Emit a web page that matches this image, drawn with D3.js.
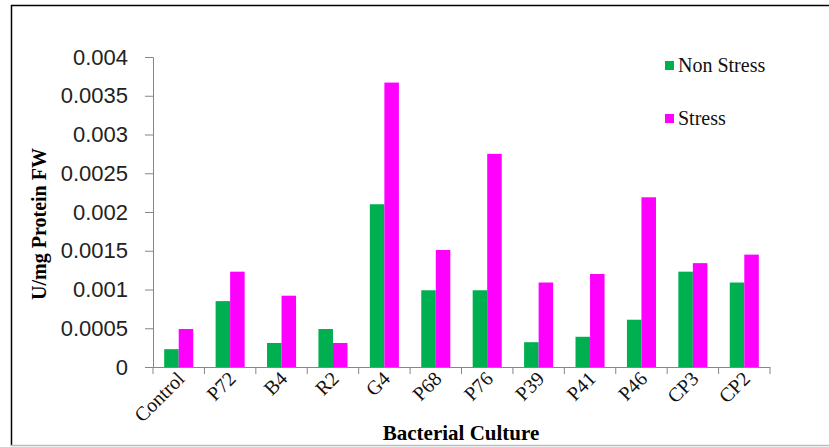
<!DOCTYPE html>
<html><head><meta charset="utf-8">
<script src="https://cdn.jsdelivr.net/npm/d3@7"></script>
<style>body{margin:0;background:#fff}svg{display:block}</style>
</head><body>
<svg id="c" width="829" height="447"></svg>
<script>
const categories = ["Control","P72","B4","R2","G4","P68","P76","P39","P41","P46","CP3","CP2"];
const seriesNames = ["Non Stress","Stress"];
const nonStress = [0.00023,0.00085,0.00031,0.00049,0.0021,0.00099,0.00099,0.00032,0.00039,0.00061,0.00123,0.00109];
const stress    = [0.00049,0.00123,0.00092,0.00031,0.00367,0.00151,0.00275,0.00109,0.0012,0.00219,0.00134,0.00145];
const yTickValues = [0,0.0005,0.001,0.0015,0.002,0.0025,0.003,0.0035,0.004];
const yTickLabels = ["0","0.0005","0.001","0.0015","0.002","0.0025","0.003","0.0035","0.004"];
const colors = ["#00B050","#FF00FF"];

const svg = d3.select("#c");
const L=153, R=770, T=57, B=367;
const x = d3.scaleBand().domain(categories).range([L,R]).padding(0);
const x1 = d3.scaleBand().domain(seriesNames).range([0,x.bandwidth()]).paddingInner(0).paddingOuter(0.77);
const y = d3.scaleLinear().domain([0,0.004]).range([B,T]);

// frame
svg.append("line").attr("x1",11.5).attr("x2",11.5).attr("y1",5).attr("y2",446).attr("stroke","#000").attr("stroke-width",1.5);
svg.append("line").attr("x1",11).attr("x2",829).attr("y1",5.5).attr("y2",5.5).attr("stroke","#000").attr("stroke-width",1.5);
svg.append("line").attr("x1",11).attr("x2",829).attr("y1",445.5).attr("y2",445.5).attr("stroke","#bbb").attr("stroke-width",1.5);

const data = categories.map((c,i)=>({cat:c, vals:[nonStress[i],stress[i]]}));
const g = svg.append("g");
g.selectAll("g.grp").data(data).join("g").attr("class","grp")
 .attr("transform",d=>`translate(${x(d.cat)},0)`)
 .selectAll("rect").data(d=>d.vals.map((v,j)=>({s:seriesNames[j],v,j})))
 .join("rect")
 .attr("x",d=>x1(d.s)).attr("width",x1.bandwidth())
 .attr("y",d=>y(d.v)).attr("height",d=>B-y(d.v))
 .attr("fill",d=>colors[d.j]);

// y axis
const ya = svg.append("g").attr("transform",`translate(${L},0)`)
 .call(d3.axisLeft(y).tickValues(yTickValues).tickFormat((d,i)=>yTickLabels[i]).tickSizeOuter(0).tickSize(8).tickPadding(17));
ya.select(".domain").attr("stroke","#868686");
ya.selectAll(".tick line").attr("stroke","#868686");
ya.selectAll("text").attr("font-family","'Liberation Sans',Arial,sans-serif").attr("font-size",22).attr("fill","#222");

// x axis
const xa = svg.append("g").attr("transform",`translate(0,${B})`);
xa.append("line").attr("x1",L).attr("x2",R).attr("y1",0.5).attr("y2",0.5).attr("stroke","#868686");
xa.selectAll("line.t").data(d3.range(categories.length+1)).join("line").attr("class","t")
 .attr("x1",i=>L+i*x.step()).attr("x2",i=>L+i*x.step()).attr("y1",0).attr("y2",7).attr("stroke","#868686");
xa.selectAll("text").data(categories).join("text")
 .attr("transform",d=>`translate(${x(d)+x.bandwidth()/2+7},${13}) rotate(-45)`)
 .attr("text-anchor","end")
 .attr("font-family","'Liberation Serif','Times New Roman',serif").attr("font-size",20).attr("fill","#111")
 .text(d=>d);

// titles
svg.append("text").attr("x",461).attr("y",440).attr("text-anchor","middle")
 .attr("font-family","'Liberation Serif','Times New Roman',serif").attr("font-weight","bold").attr("font-size",21)
 .text("Bacterial Culture");
svg.append("text").attr("transform","translate(46,224) rotate(-90)").attr("text-anchor","middle")
 .attr("font-family","'Liberation Serif','Times New Roman',serif").attr("font-weight","bold").attr("font-size",20)
 .text("U/mg Protein FW");

// legend
const lg = svg.append("g");
const ly = [61,114];
seriesNames.forEach((s,i)=>{
  lg.append("rect").attr("x",665).attr("y",ly[i]).attr("width",9).attr("height",9).attr("fill",colors[i]);
  lg.append("text").attr("x",678).attr("y",ly[i]+11).attr("font-family","'Liberation Serif','Times New Roman',serif")
   .attr("font-size",20).attr("fill","#111").text(s);
});
</script>
</body></html>
